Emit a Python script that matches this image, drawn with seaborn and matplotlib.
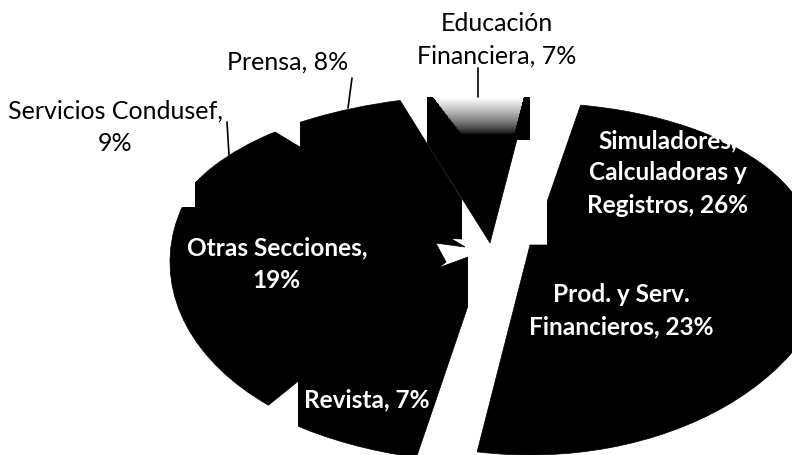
import numpy as np
import matplotlib
matplotlib.use("Agg")
import matplotlib.pyplot as plt
from matplotlib.patches import Rectangle
from matplotlib.transforms import Affine2D
import seaborn as sns

labels = ["Simuladores,\nCalculadoras y\nRegistros, 26%", "Prod. y Serv.\nFinancieros, 23%", "Revista, 7%",
          "Otras Secciones,\n19%", "Servicios Condusef,\n9%", "Prensa, 8%", "Educación\nFinanciera, 7%"]
values = [26, 23, 7, 19, 9, 8, 7]

# per slice layout in pixels (y from top): apex and radii, fakes the squashed 3d pie
apex_x = [532, 530, 487, 446, 465, 487, 490]
apex_y = [245, 245, 250, 262, 247, 240, 243]
rad_x = [280, 305, 340, 276, 299, 320, 200]
rad_y = [142, 210, 212, 187, 149, 145, 152]

# the scan is distorted, so each slice edge gets nudged (degrees): low side, high side
nudge_low = [0, -1.8, -25.8, -57.3, -5.1, 0.3, -1.2]
nudge_high = [0, 14.5, -3.8, -6.4, -2.3, 40.4, 10.1]

# visible window of each slice, gives the straight side walls
clip_left = [547, 0, 298, 0, 195, 300, 427]
clip_right = [792, 792, 468, 792, 792, 462, 792]
clip_top = [0, 0, 0, 207, 0, 0, 97]

label_x = [668, 621, 367, 277, 115, 288, 497]
label_y = [173, 311, 400, 264, 127, 62, 40]
label_col = ["white", "white", "white", "white", "black", "black", "black"]
label_bold = [True, True, True, True, False, False, False]

# leader lines
leader_x0 = [227, 352, 478]
leader_y0 = [122, 78, 68]
leader_x1 = [229, 348, 478]
leader_y1 = [155, 108, 97]

sns.set_theme(style="white")
plt.rcParams["font.family"] = ["Lato", "DejaVu Sans"]

fig = plt.figure(figsize=(7.92, 4.55), dpi=100)
ax = fig.add_axes([0, 0, 1, 1])

wedges, _ = ax.pie(values, startangle=80, counterclock=False, colors=sns.color_palette(["black"]), radius=1,
                   wedgeprops={"edgecolor": "black", "linewidth": 0.5})
ax.set_aspect("auto")

for i, w in enumerate(wedges):
    w.set_theta1(w.theta1 + nudge_low[i])
    w.set_theta2(w.theta2 + nudge_high[i])
    w.set_transform(Affine2D().scale(rad_x[i], rad_y[i]).translate(apex_x[i], 455 - apex_y[i]) + ax.transData)
    # pie turns clipping off by default
    w.set_clip_on(True)
    w.set_clip_path(Rectangle((clip_left[i], 0), clip_right[i] - clip_left[i], 455 - clip_top[i], transform=ax.transData))

# washed out top of the Educacion slice
xx, yy = np.meshgrid(np.linspace(427, 530, 104), np.linspace(97, 140, 44))
fade = np.clip(1 - (yy - 97) / 38, 0, 1) ** 0.7
fade[xx < 427 + (yy - 97) * 0.75 + 6] = 0
fade[xx > 524 - (yy - 97) * 0.25] = 0
im = ax.imshow(fade, cmap="gray", extent=[427, 530, 455 - 140, 455 - 97], origin="upper", aspect="auto",
               zorder=3, vmin=0, vmax=1)

for i in range(len(labels)):
    bold = label_bold[i]
    ax.text(label_x[i], 455 - label_y[i], labels[i], color=label_col[i], ha="center", va="center",
            fontsize=17.6 if bold else 18, fontweight="bold" if bold else "normal", linespacing=1.5, zorder=5)

for i in range(len(leader_x0)):
    ax.plot([leader_x0[i], leader_x1[i]], [455 - leader_y0[i], 455 - leader_y1[i]], color="black", lw=1.2, zorder=4)

ax.set_xlim(0, 792)
ax.set_ylim(0, 455)
ax.axis("off")

fig.savefig("out.png", dpi=100)
